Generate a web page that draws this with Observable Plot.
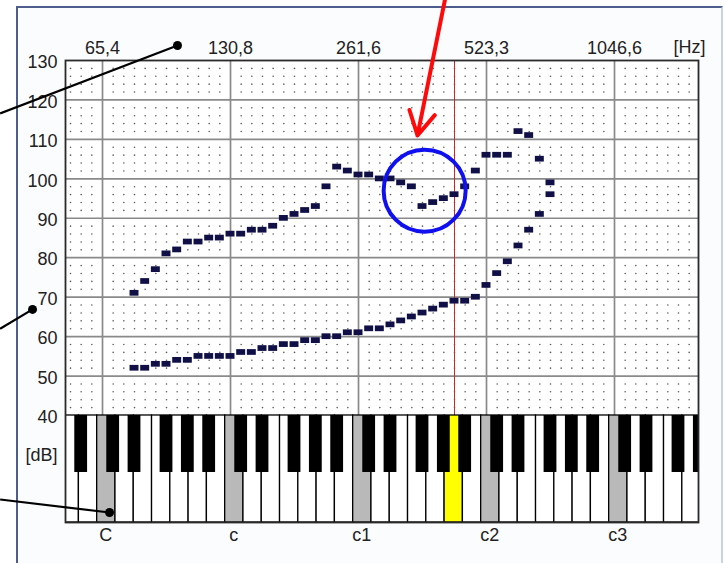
<!DOCTYPE html>
<html><head><meta charset="utf-8">
<script src="https://cdn.jsdelivr.net/npm/d3@7"></script>
<script src="https://cdn.jsdelivr.net/npm/@observablehq/plot@0.6"></script>
<style>
html,body{margin:0;padding:0;background:#fff;}
#wrap{position:relative;width:725px;height:563px;overflow:hidden;}
#panel{position:absolute;left:16px;top:6px;width:703px;height:600px;border-left:2px solid #4d5d8c;border-top:2px solid #4d5d8c;border-right:2px solid #c9d2e3;background:#fbfcfe;}
#chart{position:absolute;left:0;top:0;}
</style></head><body>
<div id="wrap"><div id="panel"></div><div id="chart"></div></div>
<script>
// MIDI note numbers of the measured semitones (D#2 .. F#5)
const notes = [39,40,41,42,43,44,45,46,47,48,49,50,51,52,53,54,55,56,57,58,59,60,61,62,63,64,65,66,67,68,69,70,71,72,73,74,75,76,77,78];
// maximum (upper contour) sound level in dB per note
const upperDb = [71,74,77,81,82,84,84,85,85,86,86,87,87,88,90,91,92,93,98,103,102,101,101,100,100,99,98,93,94,95,96,98,102,106,106,106,112,111,105,99];
// minimum (lower contour) sound level in dB per note
const lowerDb = [52,52,53,53,54,54,55,55,55,55,56,56,57,57,58,58,59,59,60,60,61,61,62,62,63,64,65,66,67,68,69,69,70,73,76,79,83,87,91,96];

// octave C notes and their frequency labels
const octaveNotes = [36,48,60,72,84];
const hzLabels = ["65,4","130,8","261,6","523,3","1046,6"];
const noteNames = ["C","c","c1","c2","c3"];
const dbTicks = [40,50,60,70,80,90,100,110,120,130];
const referenceNote = 69; // a1 = 440 Hz

// annotations (data units: semitone, dB)
const calloutStart = [[43.03,133.8],[29.44,66.9],[36.66,15.4]];
const calloutEnd   = [[26.4,116.6],[26.4,62.0],[26.4,18.7]];
const arrowFrom = [68.15,146];
const arrowTo   = [65.53,111];
const circleAt  = [66.2,97];

// scale domains
const xDomain = [32.53, 91.875];
const yDomain = [12.87, 130];
const kbBottom = yDomain[0], kbTop = 40, blackBottom = 25.55;

const points = [];
notes.forEach((n,i)=>{ points.push({note:n, db:upperDb[i]}); points.push({note:n, db:lowerDb[i]}); });

// keyboard keys
const whiteSemis = [0,2,4,5,7,9,11];
const whiteKeys = [];
const blackKeys = [];
for (let o = 24; o <= 84; o += 12) {
  whiteSemis.forEach((s,k)=>{
    const x1 = o - 0.5 + k*12/7;
    whiteKeys.push({x1, x2: x1 + 12/7, fill: k===0 ? "#b9b9b9" : (o+s===referenceNote ? "#ffff00" : "#ffffff")});
  });
  [1,3,6,8,10].forEach(s=>{ const m=o+s; if (m>=33 && m<=92) blackKeys.push(m); });
}

// dotted fine grid: every semitone x every 2 dB
const dots = [];
for (let m = 33; m <= 91; m++) {
  if (m % 12 === 0) continue;
  for (let d = 42; d < 130; d += 2) { if (d % 10 !== 0) dots.push([m,d]); }
}

const chart = Plot.plot({
  width: 725, height: 563,
  marginLeft: 65, marginRight: 27, marginTop: 60, marginBottom: 41,
  x: {domain: xDomain},
  y: {domain: yDomain},
  style: {fontFamily: "'Liberation Sans', Arial, sans-serif", fontSize: "18px", color: "#222", background: "transparent"},
  marks: [
    Plot.rect([0], {x1: xDomain[0], x2: xDomain[1], y1: kbTop, y2: 130, fill: "#ffffff"}),
    Plot.dot(dots, {x: d=>d[0], y: d=>d[1], r: 0.8, fill: "#5a5a5a", stroke: null}),
    Plot.ruleY(dbTicks.filter(d=>d>40 && d<130), {stroke: "#8a8a8a", strokeWidth: 1.7}),
    Plot.ruleX(octaveNotes, {y1: kbTop, y2: 130, stroke: "#8a8a8a", strokeWidth: 1.7}),
    Plot.ruleX([referenceNote], {y1: kbTop, y2: 130, stroke: "#c42a2a", strokeWidth: 1}),
    Plot.rect(whiteKeys, {x1: "x1", x2: "x2", y1: kbBottom, y2: kbTop, fill: "fill", stroke: "#000", strokeWidth: 1.3, clip: true}),
    Plot.rect(blackKeys, {x1: d=>d-0.6, x2: d=>d+0.6, y1: blackBottom, y2: kbTop, fill: "#000", clip: true}),
    Plot.rect(points, {x1: d=>d.note-0.42, x2: d=>d.note+0.42, y1: d=>d.db-0.75, y2: d=>d.db+0.7, fill: "#101046"}),
    Plot.frame({stroke: "#2a2a2a", strokeWidth: 1.8}),
    Plot.axisY(dbTicks, {anchor: "left", tickSize: 0, tickPadding: 8, dy: 2, label: null}),
    Plot.axisX(octaveNotes, {anchor: "top", tickSize: 0, tickPadding: 7, label: null, tickFormat: d => hzLabels[octaveNotes.indexOf(d)]}),
    Plot.text(noteNames, {x: (d,i)=>octaveNotes[i]+0.3, frameAnchor: "bottom", dy: 18, text: d=>d}),
    Plot.text(["[Hz]"], {frameAnchor: "top-right", dx: 7, dy: -13, textAnchor: "end", lineAnchor: "middle", text: d=>d}),
    Plot.text(["[dB]"], {frameAnchor: "left", y: 29.8, dx: -8, textAnchor: "end", text: d=>d}),
    Plot.dot([circleAt], {x: d=>d[0], y: d=>d[1], r: 41, stroke: "#1010ee", strokeWidth: 4, fill: "none"}),
    Plot.arrow([0], {x1: arrowFrom[0], y1: arrowFrom[1], x2: arrowTo[0], y2: arrowTo[1], stroke: "#ff0a0a", strokeWidth: 4, headLength: 10, headAngle: 58}),
    Plot.link(calloutStart, {x1: d=>d[0], y1: d=>d[1], x2: (d,i)=>calloutEnd[i][0], y2: (d,i)=>calloutEnd[i][1], stroke: "#000", strokeWidth: 2.2}),
    Plot.dot(calloutStart, {x: d=>d[0], y: d=>d[1], r: 4.5, fill: "#000", stroke: null})
  ]
});
document.getElementById("chart").appendChild(chart);
</script>
</body></html>
